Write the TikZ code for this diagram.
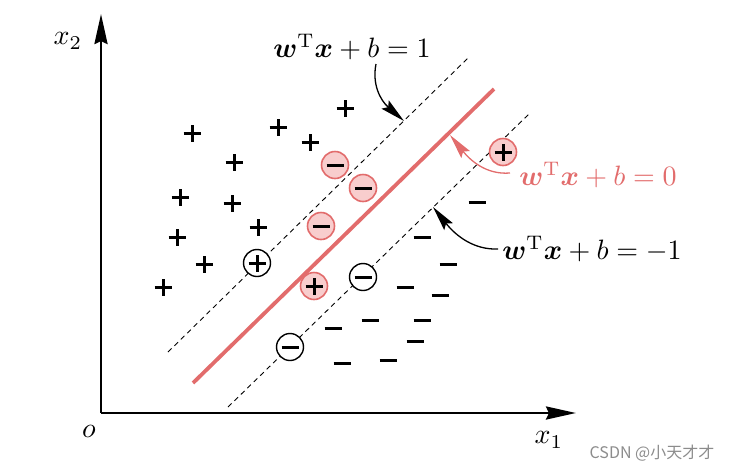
\documentclass[tikz,border=0pt]{standalone}
\usepackage{amsmath}
\usepackage{bm}
\usepackage{fontspec}
\newfontfamily\cjk{Noto Sans CJK SC}
\usetikzlibrary{arrows.meta}
\definecolor{svmred}{RGB}{226,108,108}
\definecolor{pinkfill}{RGB}{248,205,205}
\begin{document}
\begin{tikzpicture}[x=1pt,y=-1pt,
  lbl/.style={font=\normalsize, inner sep=0pt, scale=2.8},
  plusbar/.code={\draw[line width=3pt] ([xshift=-8.5pt]path picture bounding box.center) -- ([xshift=8.5pt]path picture bounding box.center)
      ([yshift=-8.5pt]path picture bounding box.center) -- ([yshift=8.5pt]path picture bounding box.center);},
  minusbar/.code={\draw[line width=3pt] ([xshift=-8.5pt]path picture bounding box.center) -- ([xshift=8.5pt]path picture bounding box.center);},
  plusmk/.style={minimum size=20pt, inner sep=0pt, path picture={\tikzset{plusbar}}},
  minusmk/.style={minimum size=20pt, inner sep=0pt, path picture={\tikzset{minusbar}}},
  redc/.style={circle, minimum size=27pt, inner sep=0pt, draw=svmred, fill=pinkfill, line width=1.6pt},
  blkc/.style={circle, minimum size=27pt, inner sep=0pt, draw=black, fill=white, line width=1.4pt},
  axis/.style={line width=2.8pt, -{Stealth[length=30pt,width=13pt,inset=3pt]}},
  margin/.style={line width=0.9pt, dash pattern=on 5pt off 4pt},
  pointer/.style={line width=1.3pt, -{Stealth[length=25pt,width=11pt,inset=4pt]}}
]
\useasboundingbox (0,0) rectangle (736,472);

% axes
\coordinate (O) at (101,413);
\coordinate (Ytip) at (101,14);
\coordinate (Xtip) at (576,413);
\draw[axis] (O) -- (Ytip);
\draw[axis] (O) -- (Xtip);
\node[lbl] (x2) at (68,41) {$x_2$};
\node[lbl] (o) at (89,431) {$o$};
\node[lbl] (x1) at (549,440) {$x_1$};

% separating lines
\coordinate (u1) at (168,352); \coordinate (u2) at (469,57);
\coordinate (r1) at (193,383); \coordinate (r2) at (494,89);
\coordinate (d1) at (228,407); \coordinate (d2) at (530,113);
\draw[margin] (u1) -- (u2);
\draw[margin] (d1) -- (d2);
\draw[svmred, line width=3.8pt] (r1) -- (r2);

% positive samples
\node[plusmk] (p1) at (192,133) {};
\node[plusmk] (p2) at (278,127) {};
\node[plusmk] (p3) at (345,108) {};
\node[plusmk] (p4) at (310,142) {};
\node[plusmk] (p5) at (234,162) {};
\node[plusmk] (p6) at (180,197) {};
\node[plusmk] (p7) at (232,203) {};
\node[plusmk] (p8) at (177,237) {};
\node[plusmk] (p9) at (258,227) {};
\node[plusmk] (p10) at (204,264) {};
\node[plusmk] (p11) at (163,287) {};

% negative samples
\node[minusmk] (n1) at (477,202) {};
\node[minusmk] (n2) at (422,237) {};
\node[minusmk] (n3) at (448,264) {};
\node[minusmk] (n4) at (405,287) {};
\node[minusmk] (n5) at (440,295) {};
\node[minusmk] (n6) at (370,320) {};
\node[minusmk] (n7) at (422,320) {};
\node[minusmk] (n8) at (333,328) {};
\node[minusmk] (n9) at (415,341) {};
\node[minusmk] (n10) at (342,363) {};
\node[minusmk] (n11) at (388,360) {};

% circled samples (support vectors and misclassified points)
\node[redc] (c1) at (335,165) {}; \node[minusmk] (c1s) at (c1) {};
\node[redc] (c2) at (363,188) {}; \node[minusmk] (c2s) at (c2) {};
\node[redc] (c3) at (321,226) {}; \node[minusmk] (c3s) at (c3) {};
\node[redc] (c4) at (314,286) {}; \node[plusmk] (c4s) at (c4) {};
\node[redc] (c5) at (503,152) {}; \node[plusmk] (c5s) at (c5) {};
\node[blkc] (c6) at (257,263) {}; \node[plusmk] (c6s) at (c6) {};
\node[blkc] (c7) at (363,277) {}; \node[minusmk] (c7s) at (c7) {};
\node[blkc] (c8) at (290,347) {}; \node[minusmk] (c8s) at (c8) {};

% labels
\node[lbl] (L1) at (352,47) {$\bm{w}^{\mathrm{T}}\bm{x}+b=1$};
\node[lbl, text=svmred] (L0) at (598,175) {$\bm{w}^{\mathrm{T}}\bm{x}+b=0$};
\node[lbl] (Lm1) at (592,249) {$\bm{w}^{\mathrm{T}}\bm{x}+b=-1$};

% pointers
\coordinate (a1s) at (376,64); \coordinate (a1t) at (404,121);
\coordinate (a0s) at (510,173); \coordinate (a0t) at (450,135);
\coordinate (ams) at (498,249); \coordinate (amt) at (433,207);
\draw[pointer] (a1s) .. controls (372,84) and (380,100) .. (a1t);
\draw[pointer, svmred] (a0s) .. controls (486,175) and (470,160) .. (a0t);
\draw[pointer] (ams) .. controls (474,250) and (456,236) .. (amt);

% watermark
\node[font=\cjk\fontsize{16}{18}\selectfont, text=black!45, inner sep=0pt] (wm) at (652,453) {CSDN @小天才才};
\end{tikzpicture}
\end{document}
